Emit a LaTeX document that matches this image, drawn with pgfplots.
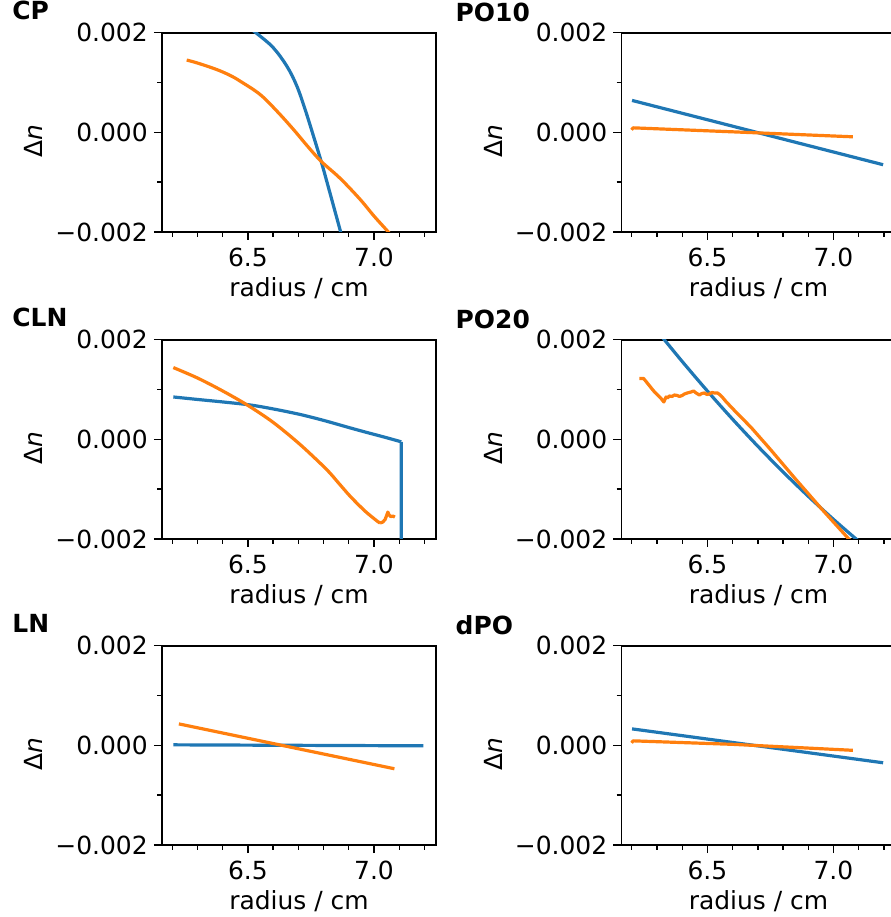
\documentclass[border=0pt]{standalone}
\usepackage{fontspec}
\setmainfont{DejaVu Sans}
\usepackage{pgfplots}
\pgfplotsset{compat=1.18}
\definecolor{mblue}{HTML}{1F77B4}
\definecolor{morange}{HTML}{FF7F0E}
\newcommand\fs{\fontsize{18.7}{22}\selectfont}
\pgfplotsset{
 panel/.style={
  scale only axis, width=205.5pt, height=149.5pt, anchor=south west,
  xmin=6.159, xmax=7.246, ymin=-0.002, ymax=0.002,
  xtick={6.5,7.0}, xticklabels={6.5,7.0},
  minor xtick={6.2,6.3,6.4,6.6,6.7,6.8,6.9,7.1,7.2},
  ytick={-0.002,0,0.002}, yticklabels={−0.002,0.000,0.002},
  minor ytick={-0.001,0.001},
  scaled y ticks=false, scaled x ticks=false,
  tick align=outside, xtick pos=left, ytick pos=left,
  major tick length=6pt, minor tick length=3.6pt,
  tick style={black, line width=1pt},
  axis line style={black, line width=1.4pt},
  tick label style={font=\fs},
  yticklabel style={anchor=east, inner sep=0pt},
  xticklabel style={anchor=north, inner sep=0pt},
  xticklabel shift=6pt, yticklabel shift=4.5pt,
  xlabel={radius / cm}, ylabel={Δ\textit{n}},
  label style={font=\fs},
  xlabel style={at={(axis description cs:0.5,-0.322)}, anchor=base},
  ylabel style={at={(axis description cs:-0.47,0.455)}, anchor=center},
  title style={font=\fs\bfseries, anchor=base west, inner sep=0pt},
  clip=true,
  every axis plot/.append style={line width=2.4pt, line join=round, no marks},
 },
 lefttitle/.style={title={#1}, title style={at={(axis description cs:-0.547,1.024)}}},
 righttitle/.style={title={#1}, title style={at={(axis description cs:-0.606,1.018)}},
   ylabel style={at={(axis description cs:-0.467,0.455)}}},
}
\begin{document}
\begin{tikzpicture}
% ---------- CP ----------
\begin{axis}[panel, lefttitle={CP}, at={(121.5pt,513.75pt)}]
\addplot[mblue, smooth, tension=0.6] coordinates {(6.40,0.00250) (6.45,0.00232) (6.50,0.00212) (6.541,0.00196) (6.600,0.00170) (6.654,0.00133) (6.693,0.00094) (6.726,0.00047) (6.759,-0.00006) (6.792,-0.00061) (6.819,-0.00110) (6.845,-0.00158) (6.865,-0.00195) (6.88,-0.00223) (6.90,-0.00260)};
\addplot[morange, smooth, tension=0.6] coordinates {(6.257,0.00145) (6.30,0.00139) (6.376,0.00126) (6.43,0.00114) (6.468,0.00103) (6.548,0.00076) (6.614,0.00043) (6.680,0.00006) (6.74,-0.00030) (6.792,-0.00059) (6.865,-0.00092) (6.944,-0.00134) (7.00,-0.00168) (7.057,-0.00200) (7.08,-0.00214)};
\end{axis}
% ---------- PO10 ----------
\begin{axis}[panel, righttitle={PO10}, at={(466.1pt,513.75pt)}]
\addplot[mblue] coordinates {(6.201,0.00064) (7.197,-0.00065)};
\addplot[morange] coordinates {(6.199,0.00005) (6.205,0.00009) (6.60,0.00001) (7.077,-0.00009)};
\end{axis}
% ---------- CLN ----------
\begin{axis}[panel, lefttitle={CLN}, at={(121.5pt,283.5pt)}]
\addplot[mblue, smooth, tension=0.5] coordinates {(6.204,0.00085) (6.30,0.00080) (6.40,0.00075) (6.508,0.00069) (6.60,0.00061) (6.706,0.00050) (6.80,0.00038) (6.905,0.00023) (6.97,0.00014) (7.037,0.00005) (7.08,-0.00001) (7.108,-0.00005)};
\addplot[mblue] coordinates {(7.108,-0.00005) (7.109,-0.0100)};
\addplot[morange, smooth, tension=0.5] coordinates {(6.204,0.00144) (6.30,0.00123) (6.40,0.00097) (6.50,0.00068) (6.60,0.00034) (6.706,-0.00010) (6.811,-0.00060) (6.86,-0.00088) (6.905,-0.00114) (6.958,-0.00141) (6.99,-0.00155) (7.015,-0.00165) (7.024,-0.00168)};
\addplot[morange] coordinates {(7.024,-0.00168) (7.035,-0.00166) (7.044,-0.00161) (7.050,-0.00153) (7.055,-0.00146) (7.060,-0.00152) (7.066,-0.00155) (7.075,-0.00154) (7.083,-0.00156)};
\end{axis}
% ---------- PO20 ----------
\begin{axis}[panel, righttitle={PO20}, at={(466.1pt,283.5pt)}]
\addplot[mblue, smooth] coordinates {(6.20,0.002826) (6.30,0.002181) (6.40,0.001562) (6.50,0.000969) (6.60,0.000402) (6.70,-0.000139) (6.80,-0.000654) (6.90,-0.001143) (7.00,-0.001606) (7.10,-0.002043) (7.20,-0.002454)};
\addplot[morange] coordinates {(6.230,0.00122) (6.247,0.00122) (6.263,0.00112) (6.290,0.00095) (6.316,0.00082) (6.327,0.00075) (6.336,0.00085) (6.342,0.00083) (6.349,0.00087) (6.360,0.00086) (6.369,0.00089) (6.380,0.00088) (6.389,0.00086) (6.400,0.00088) (6.409,0.00091) (6.420,0.00093) (6.435,0.00095) (6.445,0.00097) (6.455,0.00093) (6.468,0.00089) (6.478,0.00092) (6.488,0.00093) (6.498,0.00090) (6.508,0.00091) (6.518,0.00094) (6.528,0.00093) (6.540,0.00093) (6.548,0.00090) (6.560,0.00084) (6.575,0.00075) (6.607,0.00058) (6.673,0.00024) (6.746,-0.00018) (6.85,-0.00080) (6.95,-0.00138) (7.00,-0.00166) (7.07,-0.00205) (7.08,-0.00211)};
\end{axis}
% ---------- LN ----------
\begin{axis}[panel, lefttitle={LN}, at={(121.5pt,54pt)}]
\addplot[mblue] coordinates {(6.204,0.00001) (7.196,-0.00001)};
\addplot[morange] coordinates {(6.226,0.00043) (7.081,-0.00047)};
\end{axis}
% ---------- dPO ----------
\begin{axis}[panel, righttitle={dPO}, at={(466.1pt,54pt)}]
\addplot[mblue] coordinates {(6.201,0.00033) (7.197,-0.00035)};
\addplot[morange] coordinates {(6.199,0.00005) (6.205,0.00009) (6.60,0.00002) (7.077,-0.00010)};
\end{axis}
\pgfresetboundingbox
\useasboundingbox (0,0) rectangle (668.25pt,687.75pt);
\end{tikzpicture}
\end{document}
